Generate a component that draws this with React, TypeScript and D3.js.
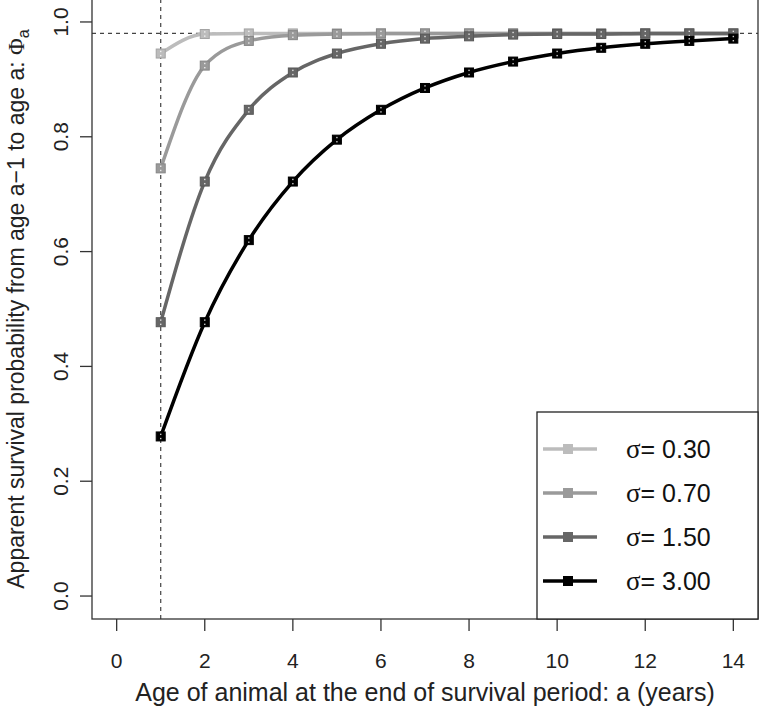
import React from "react";
import * as d3 from "d3";

// ages at the end of each survival period
const ages = [1, 2, 3, 4, 5, 6, 7, 8, 9, 10, 11, 12, 13, 14];

// apparent survival, one array per sigma
const sigmas = ["0.30", "0.70", "1.50", "3.00"];
const phiS030 = [0.945, 0.979, 0.98, 0.98, 0.98, 0.98, 0.98, 0.98, 0.98, 0.98, 0.98, 0.98, 0.98, 0.98];
const phiS070 = [0.745, 0.924, 0.967, 0.977, 0.979, 0.98, 0.98, 0.98, 0.98, 0.98, 0.98, 0.98, 0.98, 0.98];
const phiS150 = [0.477, 0.722, 0.847, 0.912, 0.945, 0.962, 0.971, 0.975, 0.978, 0.979, 0.979, 0.98, 0.98, 0.98];
const phiS300 = [0.278, 0.477, 0.62, 0.722, 0.795, 0.847, 0.885, 0.912, 0.931, 0.945, 0.955, 0.962, 0.967, 0.971];
const seriesVals = [phiS030, phiS070, phiS150, phiS300];
const greys = ["#bcbcbc", "#9a9a9a", "#666666", "#000000"];

const maxPhi = 0.98;
const xTicks = [0, 2, 4, 6, 8, 10, 12, 14];
const yTicks = [0, 0.2, 0.4, 0.6, 0.8, 1.0];

const W = 760, H = 709;
const left = 92, right = 758, top = -1, bottom = 619;
const FONT = "'Liberation Sans', Arial, Helvetica, sans-serif";
const SERIF = "'Liberation Serif', 'DejaVu Serif', serif";

const App = () => {
    const x = d3.scaleLinear().domain([-0.56, 14.56]).range([left, right]);
    const y = d3.scaleLinear().domain([-0.04, 1.04]).range([bottom, top]);

    const line = d3
        .line<[number, number]>()
        .x(d => x(d[0]))
        .y(d => y(d[1]))
        .curve(d3.curveMonotoneX);

    // legend sits in the bottom-right corner of the plot region
    const legL = 537, legT = 412;
    const legRow = (i: number) => 449 + i * 44;

    return (
        <svg width={W} height={H} style={{ display: "block", position: "absolute", left: 0, top: 0 }}>
            <rect width={W} height={H} fill="#fff" />

            {/* reference lines */}
            <line x1={x(1)} x2={x(1)} y1={top} y2={bottom} stroke="#444" strokeDasharray="4,4" strokeWidth={1.2} />
            <line x1={left} x2={right} y1={y(maxPhi)} y2={y(maxPhi)} stroke="#444" strokeDasharray="4,4" strokeWidth={1.2} />

            {/* curves + markers */}
            {seriesVals.map((vals, i) => {
                const pts = ages.map((a, j) => [a, vals[j]] as [number, number]);
                return (
                    <g key={i}>
                        <path d={line(pts) || ""} fill="none" stroke={greys[i]} strokeWidth={3.5} />
                        {pts.map((p, j) => (
                            <g key={j} transform={`translate(${x(p[0])},${y(p[1])})`}>
                                <rect x={-4.5} y={-4.5} width={9} height={9} fill={greys[i]} stroke={d3.color(greys[i])!.darker(0.4).toString()} strokeWidth={1} />
                                <rect x={-0.7} y={-2.8} width={1.4} height={1.4} fill="#fff" opacity={0.8} />
                                <rect x={-0.7} y={1.4} width={1.4} height={1.4} fill="#fff" opacity={0.8} />
                            </g>
                        ))}
                    </g>
                );
            })}

            {/* frame */}
            <rect x={left} y={top} width={right - left} height={bottom - top} fill="none" stroke="#333" strokeWidth={1.3} />

            {/* x axis */}
            {xTicks.map(t => (
                <g key={t}>
                    <line x1={x(t)} x2={x(t)} y1={bottom} y2={bottom + 12} stroke="#333" strokeWidth={1.3} />
                    <text x={x(t)} y={668} textAnchor="middle" fontFamily={FONT} fontSize={21} fill="#222">{t}</text>
                </g>
            ))}
            <text x={(left + right) / 2} y={701} textAnchor="middle" fontFamily={FONT} fontSize={25} fill="#222">
                Age of animal at the end of survival period: a (years)
            </text>

            {/* y axis */}
            {yTicks.map(t => (
                <g key={t}>
                    <line x1={left - 12} x2={left} y1={y(t)} y2={y(t)} stroke="#333" strokeWidth={1.3} />
                    <text transform={`translate(68,${y(t)}) rotate(-90)`} textAnchor="middle" fontFamily={FONT} fontSize={21} fill="#222">
                        {d3.format(".1f")(t)}
                    </text>
                </g>
            ))}
            <text transform={`translate(24,${(top + bottom) / 2}) rotate(-90)`} textAnchor="middle" fontFamily={FONT} fontSize={23} fill="#222">
                Apparent survival probability from age a−1 to age a:{" "}
                <tspan fontFamily={SERIF}>Φ</tspan>
                <tspan fontSize={16} dy={5}>a</tspan>
            </text>

            {/* legend */}
            <rect x={legL} y={legT} width={right - legL} height={bottom - legT} fill="#fff" stroke="#222" strokeWidth={1.3} />
            {sigmas.map((s, i) => (
                <g key={s}>
                    <line x1={543} x2={597} y1={legRow(i)} y2={legRow(i)} stroke={greys[i]} strokeWidth={3.5} />
                    <rect x={563} y={legRow(i) - 5} width={10} height={10} fill={greys[i]} />
                    <text x={626} y={legRow(i) + 9} fontFamily={FONT} fontSize={25} fill="#111">
                        <tspan fontFamily={SERIF} fontSize={27}>σ</tspan>
                        <tspan>= {s}</tspan>
                    </text>
                </g>
            ))}
        </svg>
    );
};

export default App;
